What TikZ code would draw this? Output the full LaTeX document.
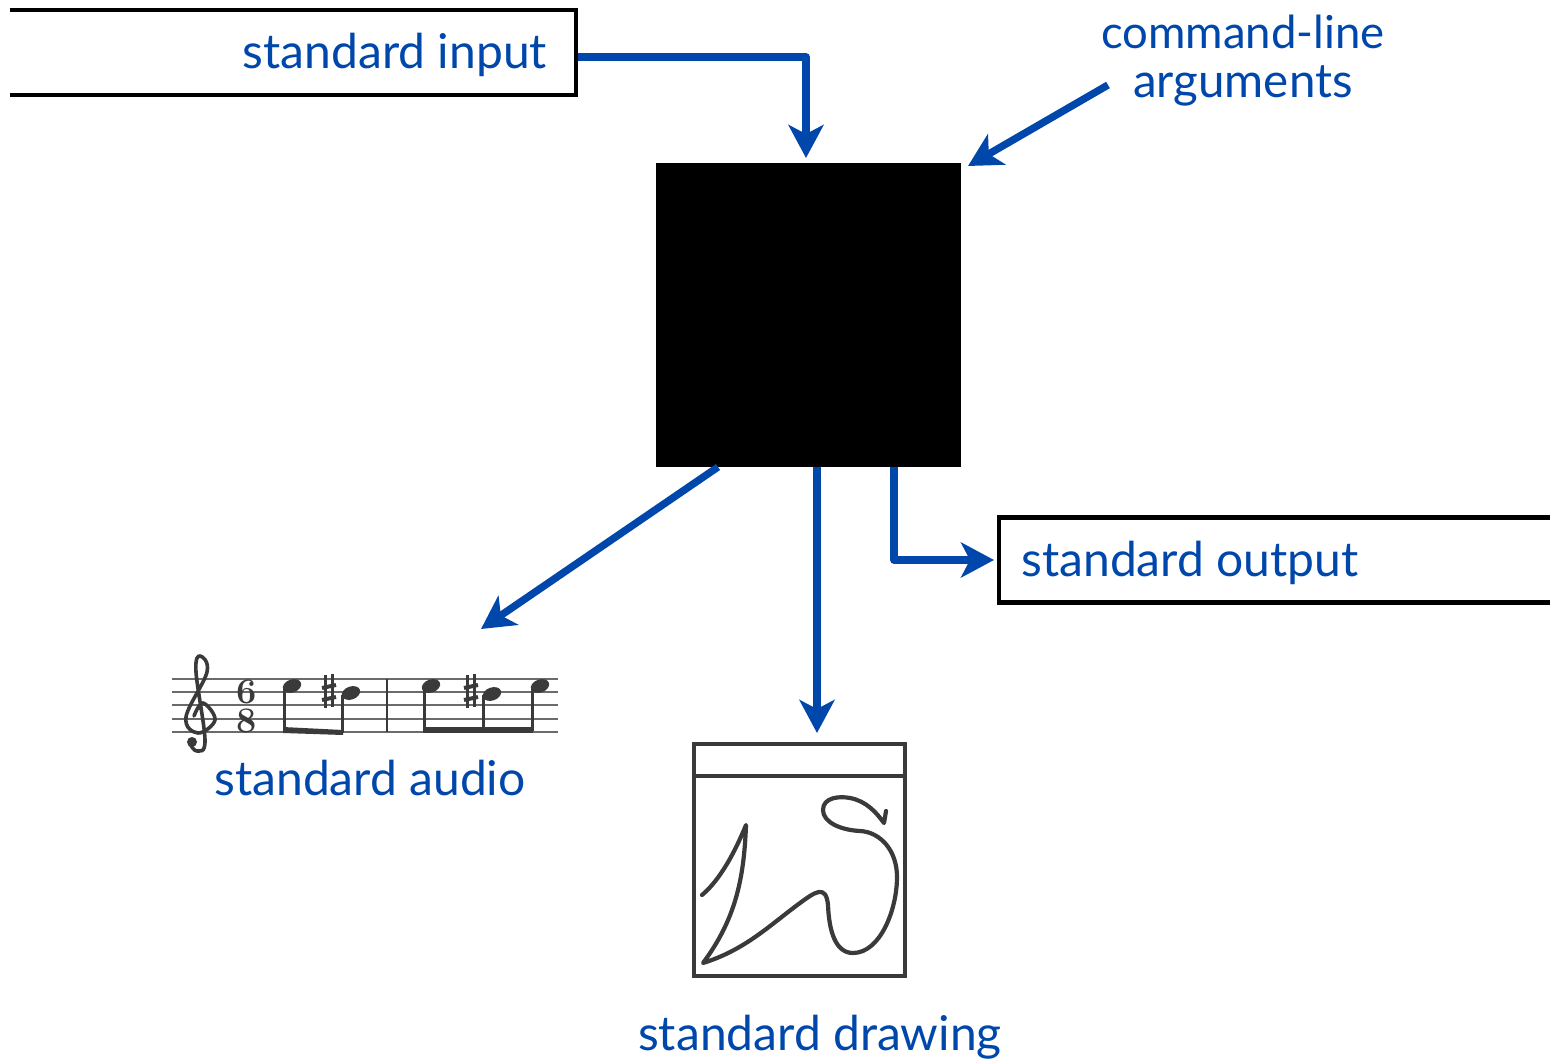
\documentclass[tikz,border=0pt]{standalone}
\usepackage{fontspec}
\newfontfamily\labelfont{Lato}
\usetikzlibrary{arrows.meta}
\definecolor{flow}{RGB}{0,71,171}
\definecolor{ink}{RGB}{58,58,58}
\tikzset{
  lbl/.style={text=flow,font=\labelfont\fontsize{48}{52}\selectfont,inner sep=0pt,anchor=center},
  flowline/.style={draw=flow,line width=7.4pt,line join=round,-{Stealth[length=33pt,width=35pt,inset=9pt]}},
  streambox/.style={minimum height=85pt,inner sep=0pt},
  border/.style={draw=black,line width=4.5pt,line join=miter},
  staffline/.style={draw=ink!75,line width=2pt},
  stem/.style={draw=ink,line width=3pt},
  pics/sharpmark/.style={code={
    \draw[ink,line width=2.2pt] (-3.5,-18) -- (-3.5,15) (3.5,-19) -- (3.5,14);
    \draw[ink,line width=4pt] (-7,-5) -- (7,-8) (-7,7) -- (7,4);
  }}
}
\begin{document}
\begin{tikzpicture}[x=1pt,y=-1pt]
\useasboundingbox (0,0) rectangle (1550,1064);
% black box
\node[fill=black,minimum width=305pt,minimum height=304pt,inner sep=0pt] (prog) at (808.5,315) {};
% input and output boxes
\node[streambox,minimum width=566pt] (inbox) at (293,52.5) {};
\node[streambox,minimum width=551pt] (outbox) at (1274.5,560) {};
\draw[border] (inbox.north west) -- (inbox.north east) -- (inbox.south east) -- (inbox.south west);
\draw[border] (outbox.north east) -- (outbox.north west) -- (outbox.south west) -- (outbox.south east);
\node[lbl] (inlabel) at (395,55) {standard input};
\node[lbl] (outlabel) at (1190,563) {standard output};
\node[lbl,font=\labelfont\fontsize{45.5}{50}\selectfont] (cmd1) at (1243,32) {command-line};
\node[lbl,font=\labelfont\fontsize{47.5}{50}\selectfont] (cmd2) at (1243,86) {arguments};
\node[lbl] (audiolabel) at (370,778) {standard audio};
\node[lbl] (drawlabel) at (820,1037) {standard drawing};
% connector ends
\coordinate (intip) at (806,158);
\coordinate (argstart) at (1108,85);
\coordinate (argtip) at (968,166);
\coordinate (audiostart) at (718,467);
\coordinate (audiotip) at (481,629);
\coordinate (drawstart) at (817,467);
\coordinate (drawtip) at (817,733);
\coordinate (outstart) at (894,467);
\coordinate (outtip) at (994,560);
\coordinate (instart) at (578,57);
% connectors
\draw[flowline] (instart) -| (intip);
\draw[flowline] (argstart) -- (argtip);
\draw[flowline] (audiostart) -- (audiotip);
\draw[flowline] (drawstart) -- (drawtip);
\draw[flowline] (outstart) |- (outtip);
% music
\foreach \yy in {679,692,705,719,732} \draw[staffline] (172,\yy) -- (558,\yy);
\draw[draw=ink,line width=2.6pt] (387,679) -- (387,732);
\draw[ink,line width=3.6pt,line cap=round] plot[smooth,tension=.65] coordinates {(190,744) (197,751) (205,740) (196,672) (200,656) (207,672) (186,717) (198,733) (215,720) (203,703) (194,716)};
\fill[ink] (192,742) circle (5pt);
\node[inner sep=0pt,text=ink,align=center,font=\bfseries\fontsize{36}{29}\selectfont] (timesig) at (247,706) {6\\8};
\foreach \xx/\yy in {292/686,351/693,431/686,492/694,540/686}
  \fill[ink,rotate around={20:(\xx,\yy)}] (\xx,\yy) ellipse (9.5pt and 6.5pt);
\draw[stem] (284,687) -- (284,731);
\draw[stem] (342,695) -- (342,733);
\draw[stem] (424,687) -- (424,731);
\draw[stem] (483,695) -- (483,731);
\draw[stem] (532,687) -- (532,731);
\fill[ink] (283,727) -- (343,730) -- (343,735) -- (283,733) -- cycle;
\fill[ink] (423,727) rectangle (533,733);
\pic at (329,693) {sharpmark};
\pic at (471,693) {sharpmark};
% drawing window
\draw[draw=ink,line width=4pt] (694,744) rectangle (905,976);
\draw[draw=ink,line width=4pt] (694,776) -- (905,776);
\draw[draw=ink,line width=4.2pt,line cap=round,line join=round]
 (702,895) .. controls (720,880) and (735,852) .. (746,825)
 .. controls (744,880) and (735,920) .. (703,963)
 .. controls (745,950) and (770,925) .. (800,903)
 .. controls (815,892) and (826,884) .. (828,905)
 .. controls (829,930) and (835,953) .. (853,953)
 .. controls (880,953) and (897,910) .. (897,877)
 .. controls (897,850) and (880,832) .. (860,831)
 .. controls (840,830) and (823,822) .. (823,810)
 .. controls (823,797) and (840,796) .. (850,798)
 .. controls (866,801) and (876,812) .. (884,823)
 -- (886,811);
\end{tikzpicture}
\end{document}
